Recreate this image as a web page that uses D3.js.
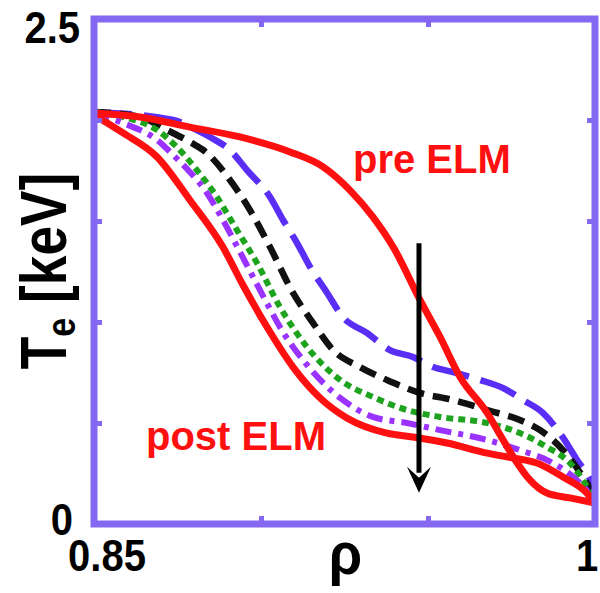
<!DOCTYPE html>
<html><head><meta charset="utf-8">
<script src="https://cdn.jsdelivr.net/npm/d3@7"></script>
<style>body{margin:0;background:#fff}svg{display:block}</style>
</head><body><svg id="c" width="600" height="593"></svg>
<script>
// ---- data ----
const xTicks = [0.85, 0.9, 0.95, 1.0];
const yTicks = [0, 0.5, 1.0, 1.5, 2.0, 2.5];
const xTickLabels = {"0.85": "0.85", "1": "1"};
const yTickLabels = {"0": "0", "2.5": "2.5"};

const blueRho = [0.85,0.8737,0.8808,0.8847,0.8907,0.8958,0.9027,0.9066,0.9108,0.9147,0.9198,0.9245,0.9317,0.9386,0.9455,0.9515,0.9575,0.9656,0.9725,0.9784,0.9844,0.9895,0.9946,0.9994,1.0];
const blueT   = [2.04,2.0,1.95,1.916,1.851,1.752,1.619,1.505,1.391,1.272,1.144,1.025,0.946,0.861,0.827,0.777,0.752,0.713,0.673,0.614,0.55,0.45,0.317,0.183,0.15];

const blackRho = [0.85,0.8638,0.8719,0.8787,0.8838,0.8907,0.8967,0.9027,0.9096,0.9156,0.9216,0.9296,0.9377,0.9476,0.9575,0.9677,0.9775,0.9835,0.9904,0.9964,1.0];
const blackT   = [2.04,2.015,1.95,1.891,1.837,1.703,1.554,1.371,1.144,0.995,0.861,0.777,0.713,0.649,0.614,0.564,0.515,0.465,0.366,0.233,0.134];

const greenRho = [0.85,0.8587,0.8689,0.8748,0.8808,0.8868,0.8928,0.8988,0.9057,0.9138,0.9237,0.9335,0.9437,0.9536,0.9677,0.9775,0.9856,0.9925,1.0];
const greenT   = [2.04,2.015,1.95,1.866,1.752,1.619,1.455,1.292,1.074,0.876,0.713,0.629,0.564,0.53,0.5,0.45,0.381,0.302,0.119];

const purpleRho = [0.85,0.8587,0.8689,0.8737,0.8787,0.8838,0.8886,0.8937,0.8997,0.9066,0.9138,0.9237,0.9335,0.9437,0.9536,0.9677,0.9775,0.9874,0.9955,1.0];
const purpleT   = [2.035,1.985,1.901,1.827,1.743,1.639,1.505,1.347,1.158,0.95,0.787,0.624,0.53,0.5,0.465,0.416,0.366,0.302,0.203,0.119];

const postRho = [0.85,0.8587,0.8689,0.8787,0.8886,0.8946,0.9018,0.9096,0.9177,0.9257,0.9377,0.9455,0.9557,0.9677,0.9754,0.9826,0.9904,0.9976,1.0];
const postT   = [2.025,1.936,1.817,1.604,1.371,1.183,0.975,0.777,0.624,0.525,0.45,0.431,0.401,0.351,0.327,0.302,0.233,0.153,0.104];

const preRho = [0.85,0.8638,0.8787,0.8937,0.9087,0.9186,0.9266,0.9335,0.9401,0.9476,0.9536,0.9596,0.9677,0.9725,0.9767,0.9805,0.9856,0.9925,1.0];
const preT   = [2.035,2.015,1.965,1.916,1.842,1.768,1.653,1.52,1.356,1.109,0.926,0.728,0.55,0.416,0.302,0.218,0.153,0.129,0.104];

const arrowRho = [0.9473, 0.9473];
const arrowT   = [1.39, 0.155];

// ---- drawing ----
const svg = d3.select("#c");
const L = 94, R = 595, T = 19, B = 524;
const x = d3.scaleLinear().domain([0.85, 1.0]).range([L, R]);
const y = d3.scaleLinear().domain([0, 2.5]).range([B, T]);
const frame = "#8468f2";
const font = "'Liberation Sans', Arial, Helvetica, sans-serif";

const series = [
  {rho: blueRho, t: blueT, color: "#5b2ef5", w: 6.5, dash: "38,12"},
  {rho: blackRho, t: blackT, color: "#111111", w: 6.5, dash: "17,9"},
  {rho: greenRho, t: greenT, color: "#1ea31e", w: 6, dash: "7,5"},
  {rho: purpleRho, t: purpleT, color: "#9a33ff", w: 6, dash: "16,7,5,7"},
  {rho: postRho, t: postT, color: "#ff1010", w: 7, dash: null},
  {rho: preRho, t: preT, color: "#ff1010", w: 7, dash: null}
];

const line = d3.line().x(d => x(d[0])).y(d => y(d[1])).curve(d3.curveMonotoneX);

series.forEach(s => {
  const pts = s.rho.map((r, i) => [r, s.t[i]]);
  svg.append("path").attr("d", line(pts)).attr("fill", "none")
    .attr("stroke", s.color).attr("stroke-width", s.w)
    .attr("stroke-dasharray", s.dash).attr("stroke-linejoin", "round");
});

// frame ticks (inward, all sides)
const tickLen = 8;
const gB = svg.append("g").attr("transform", `translate(0,${B})`)
  .call(d3.axisBottom(x).tickValues(xTicks).tickSize(-tickLen).tickFormat(""));
const gT = svg.append("g").attr("transform", `translate(0,${T})`)
  .call(d3.axisTop(x).tickValues(xTicks).tickSize(-tickLen).tickFormat(""));
const gL = svg.append("g").attr("transform", `translate(${L},0)`)
  .call(d3.axisLeft(y).tickValues(yTicks).tickSize(-tickLen).tickFormat(""));
const gR = svg.append("g").attr("transform", `translate(${R},0)`)
  .call(d3.axisRight(y).tickValues(yTicks).tickSize(-tickLen).tickFormat(""));
[gB, gT, gL, gR].forEach(g => {
  g.select(".domain").remove();
  g.selectAll(".tick line").attr("stroke", frame).attr("stroke-width", 5);
});
svg.append("rect").attr("x", L).attr("y", T).attr("width", R - L).attr("height", B - T)
  .attr("fill", "none").attr("stroke", frame).attr("stroke-width", 7);

// arrow
svg.append("line").attr("x1", x(arrowRho[0])).attr("x2", x(arrowRho[1]))
  .attr("y1", y(arrowT[0])).attr("y2", y(arrowT[1]) - 20)
  .attr("stroke", "#000").attr("stroke-width", 5);
const ax = x(arrowRho[1]), ay = y(arrowT[1]);
svg.append("path").attr("d", `M${ax},${ay} L${ax-12},${ay-26} L${ax},${ay-15} L${ax+12},${ay-26} Z`).attr("fill", "#000");

// tick labels
const lab = (txt, px, py, anchor, size) => svg.append("text")
  .attr("transform", `translate(${px},${py}) scale(1,1.1)`)
  .attr("text-anchor", anchor).attr("font-family", font).attr("font-weight", "bold")
  .attr("font-size", size).attr("fill", "#000").text(txt);
lab(yTickLabels["2.5"], L - 14, y(2.5) + 24, "end", 40);
lab(yTickLabels["0"], L - 21, y(0) + 11, "end", 40);
lab(xTickLabels["0.85"], x(0.85) + 13, B + 47, "middle", 40);
lab(xTickLabels["1"], x(1.0) - 8, B + 47, "middle", 40);

// axis titles
lab("ρ", (L + R) / 2 + 1, B + 50, "middle", 54);
const yl = svg.append("text").attr("transform", `translate(66,271) rotate(-90) scale(0.95,1.15)`)
  .attr("text-anchor", "middle").attr("font-family", font).attr("font-weight", "bold")
  .attr("font-size", 56).attr("fill", "#000");
yl.append("tspan").text("T");
yl.append("tspan").attr("font-size", 36).attr("dy", 8).text("e");
yl.append("tspan").attr("dy", -8).text(" [keV]");

// annotations
svg.append("text").attr("x", 353).attr("y", 173).attr("font-family", font).attr("font-weight", "bold")
  .attr("font-size", 40).attr("fill", "#ff1010").text("pre ELM");
svg.append("text").attr("x", 146).attr("y", 450).attr("font-family", font).attr("font-weight", "bold")
  .attr("font-size", 40).attr("fill", "#ff1010").text("post ELM");
</script></body></html>
